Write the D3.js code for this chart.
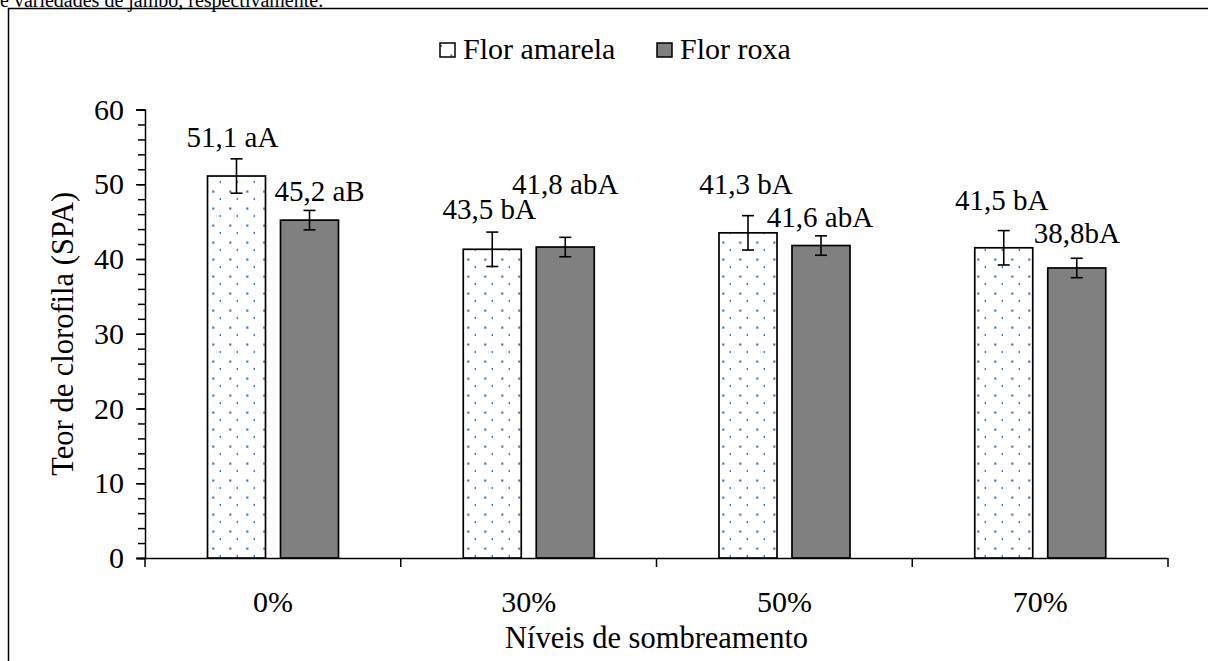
<!DOCTYPE html>
<html>
<head>
<meta charset="utf-8">
<script src="https://cdn.jsdelivr.net/npm/d3@7"></script>
<style>
  body { margin: 0; background: #fff; }
</style>
</head>
<body>
<div id="chart"></div>
<script>
// data
var categories = ["0%", "30%", "50%", "70%"];
var seriesNames = ["Flor amarela", "Flor roxa"];
var amarela = [51.1, 41.3, 43.5, 41.5];
var roxa = [45.2, 41.6, 41.8, 38.8];
var errAmarela = [2.3, 2.3, 2.3, 2.3];
var errRoxa = [1.3, 1.3, 1.3, 1.3];
var labelsAmarela = ["51,1 aA", "43,5 bA", "41,3 bA", "41,5 bA"];
var labelsRoxa = ["45,2 aB", "41,8 abA", "41,6 abA", "38,8bA"];
var yTicks = [0, 10, 20, 30, 40, 50, 60];

// manual label nudges (px) – labels were hand placed in the original
var nudgeAmarela = { dx: [-4, -3, -2, -2], lift: [12, 13, 22, 21] };
var nudgeRoxa = { dx: [10, 0, -1, 0], lift: [9, 43, 9, 15] };

var FONT = "'Liberation Serif', 'Times New Roman', Times, serif";
var width = 1208, height = 661;
var plotLeft = 145, plotRight = 1168, plotTop = 109.5, plotBottom = 558;

var svg = d3.select("#chart").append("svg")
    .attr("width", width)
    .attr("height", height)
    .attr("font-family", FONT);

var defs = svg.append("defs");

// dotted fill like Excel's pattern fill
var pat = defs.append("pattern")
    .attr("id", "dots")
    .attr("patternUnits", "userSpaceOnUse")
    .attr("width", 17)
    .attr("height", 17);
pat.append("rect").attr("width", 17).attr("height", 17).attr("fill", "#fff");
pat.append("rect").attr("x", 8.2).attr("y", 3.5).attr("width", 2.2).attr("height", 2.2).attr("fill", "#4a7ebb");
pat.append("rect").attr("x", 15.6).attr("y", 10.9).attr("width", 2.2).attr("height", 2.2).attr("fill", "#4a7ebb");

// caption line cut off above the frame (as in the original crop)
svg.append("text")
    .attr("x", 0)
    .attr("y", 6.5)
    .attr("font-family", FONT)
    .style("font-size", "20px")
    .text("e variedades de jambo, respectivamente.");

// outer frame (only left and top are inside the picture)
svg.append("path")
    .attr("d", "M8.5," + height + "V8.5H" + width)
    .attr("fill", "none")
    .attr("stroke", "#000")
    .attr("stroke-width", 1.5);

var x0 = d3.scaleBand()
    .domain(categories)
    .range([plotLeft, plotRight])
    .padding(0);

var x1 = d3.scaleBand()
    .domain(seriesNames)
    .range([62.5, 193.5])
    .paddingInner(0.2055)
    .paddingOuter(0);

var y = d3.scaleLinear()
    .domain([0, 60])
    .range([plotBottom, plotTop]);

var g = svg.append("g");

// y axis with minor ticks
var yAxis = g.append("g")
    .attr("transform", "translate(" + plotLeft + ",0)")
    .call(d3.axisLeft(y).tickValues(yTicks).tickSize(9).tickPadding(12).tickFormat(d3.format("d")));
g.append("g")
    .attr("transform", "translate(" + plotLeft + ",0)")
    .call(d3.axisLeft(y).tickValues(d3.range(0, 61, 2)).tickSize(7).tickFormat(""))
    .select(".domain").remove();

// x axis
var xAxis = g.append("g")
    .attr("transform", "translate(0," + plotBottom + ")")
    .call(d3.axisBottom(x0).tickSize(0).tickPadding(33));
g.append("g")
    .selectAll("line")
    .data(d3.range(categories.length + 1))
    .join("line")
    .attr("x1", function (i) { return plotLeft + i * x0.step(); })
    .attr("x2", function (i) { return plotLeft + i * x0.step(); })
    .attr("y1", plotBottom)
    .attr("y2", plotBottom + 9)
    .attr("stroke", "#000")
    .attr("stroke-width", 1.5);

g.selectAll("g").attr("font-family", null).attr("font-size", null);
[yAxis, xAxis].forEach(function (a) {
    a.attr("font-family", FONT);
    a.selectAll("text").attr("font-family", FONT).style("font-size", "30px").attr("fill", "#000");
    a.selectAll("path, line").attr("stroke", "#000").attr("stroke-width", 1.5);
});
g.selectAll(".tick line").attr("stroke", "#000").attr("stroke-width", 1.5);
xAxis.select(".domain").attr("d", "M" + (plotLeft - 8) + ",0.5H" + plotRight);

// bars
var series = [
    { name: seriesNames[0], values: amarela, err: errAmarela, labels: labelsAmarela, nudge: nudgeAmarela, fill: "url(#dots)" },
    { name: seriesNames[1], values: roxa, err: errRoxa, labels: labelsRoxa, nudge: nudgeRoxa, fill: "#808080" }
];

series.forEach(function (s) {
    var sg = g.append("g");
    var bx = function (i) { return x0(categories[i]) + x1(s.name); };
    var cx = function (i) { return bx(i) + x1.bandwidth() / 2; };

    sg.selectAll("rect")
        .data(s.values)
        .join("rect")
        .attr("x", function (d, i) { return bx(i); })
        .attr("y", function (d) { return y(d); })
        .attr("width", x1.bandwidth())
        .attr("height", function (d) { return plotBottom - y(d); })
        .attr("fill", s.fill)
        .attr("stroke", "#000")
        .attr("stroke-width", 1.7);

    // error bars
    s.values.forEach(function (v, i) {
        var e = s.err[i];
        sg.append("line")
            .attr("x1", cx(i)).attr("x2", cx(i))
            .attr("y1", y(v + e)).attr("y2", y(v - e))
            .attr("stroke", "#000").attr("stroke-width", 1.6);
        [v + e, v - e].forEach(function (w) {
            sg.append("line")
                .attr("x1", cx(i) - 6).attr("x2", cx(i) + 6)
                .attr("y1", y(w)).attr("y2", y(w))
                .attr("stroke", "#000").attr("stroke-width", 1.6);
        });
    });

    // data labels
    sg.selectAll("text.lbl")
        .data(s.labels)
        .join("text")
        .attr("class", "lbl")
        .attr("x", function (d, i) { return cx(i) + s.nudge.dx[i]; })
        .attr("y", function (d, i) { return y(s.values[i] + s.err[i]) - s.nudge.lift[i]; })
        .attr("text-anchor", "middle")
        .attr("font-family", FONT)
        .style("font-size", "29px")
        .text(function (d) { return d; });
});

// axis titles
svg.append("text")
    .attr("transform", "translate(73," + ((plotTop + plotBottom) / 2) + ") rotate(-90)")
    .attr("text-anchor", "middle")
    .attr("font-family", FONT)
    .style("font-size", "30.5px")
    .text("Teor de clorofila (SPA)");

svg.append("text")
    .attr("x", (plotLeft + plotRight) / 2)
    .attr("y", 648)
    .attr("text-anchor", "middle")
    .attr("font-family", FONT)
    .style("font-size", "30.5px")
    .text("Níveis de sombreamento");

// legend
var legendX = [440, 657];
var legend = svg.append("g");
series.forEach(function (s, i) {
    legend.append("rect")
        .attr("x", legendX[i])
        .attr("y", 43)
        .attr("width", 15)
        .attr("height", 14)
        .attr("fill", s.fill)
        .attr("stroke", "#000")
        .attr("stroke-width", 1.5);
    legend.append("text")
        .attr("x", legendX[i] + 23)
        .attr("y", 59)
        .attr("font-family", FONT)
        .style("font-size", "30px")
        .text(s.name);
});
</script>
</body>
</html>
